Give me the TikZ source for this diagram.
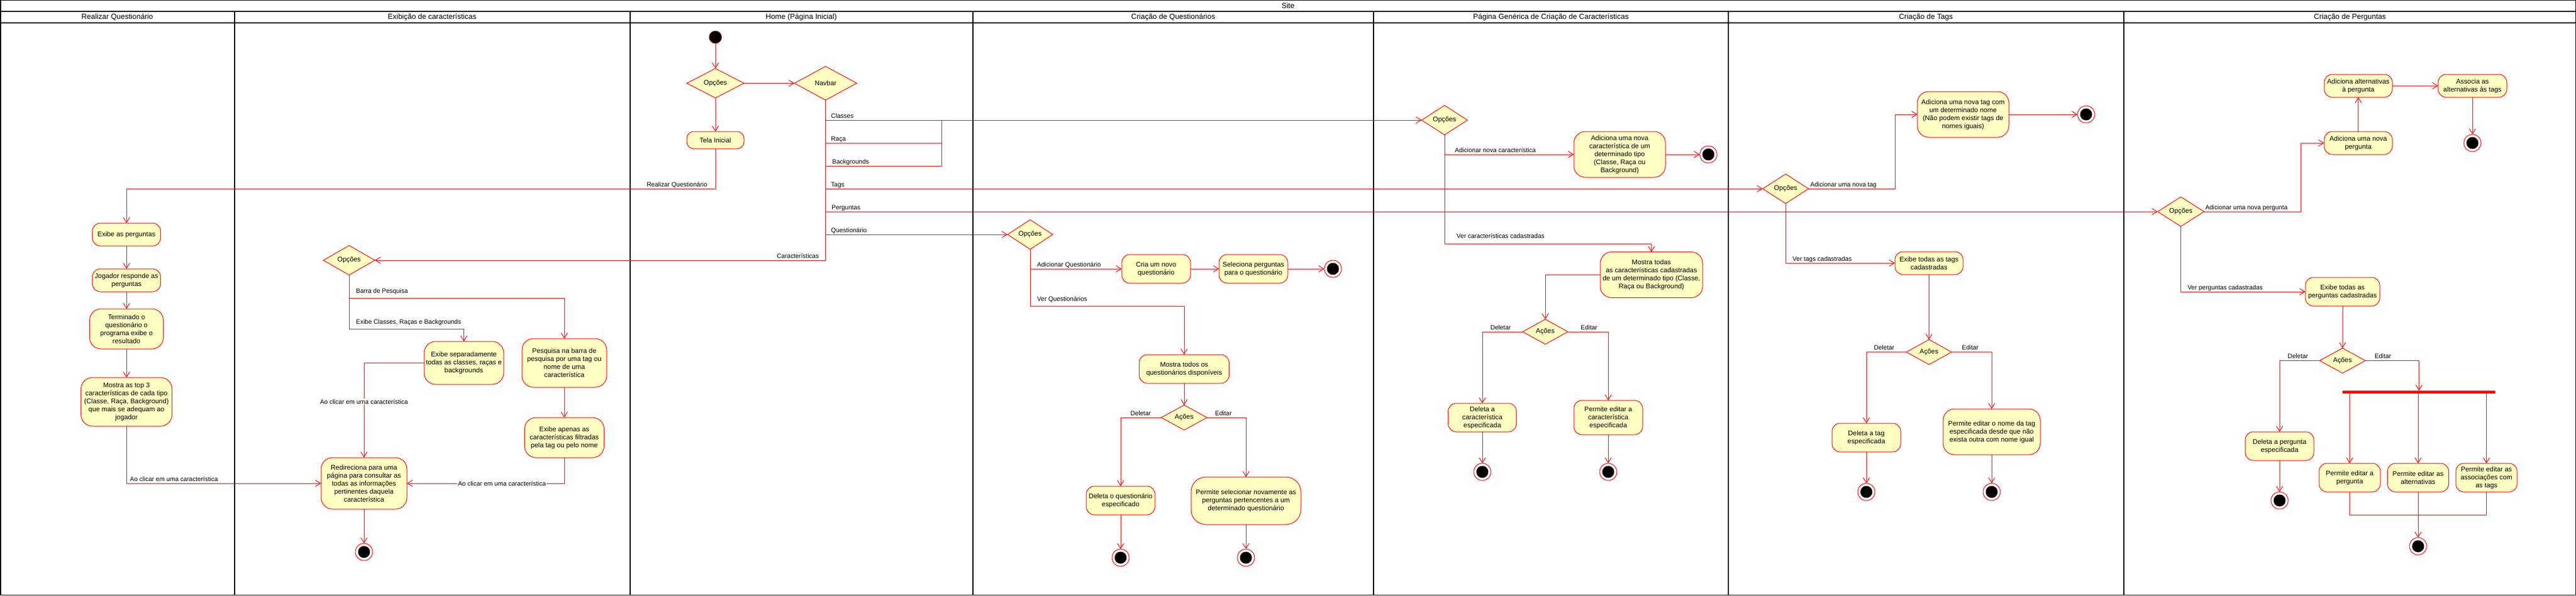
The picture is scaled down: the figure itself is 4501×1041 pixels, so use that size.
\documentclass[tikz,border=0pt]{standalone}
\usepackage{fontspec}
\setmainfont{Liberation Sans}
\usetikzlibrary{shapes.geometric,arrows.meta}
\definecolor{actfill}{RGB}{255,255,196}
\newcommand\nodefnt{\fontsize{11.8}{14}\selectfont}
\newcommand\lblfnt{\fontsize{11}{13}\selectfont}
\newcommand\hdrfnt{\fontsize{13}{15}\selectfont}
\tikzset{
 act/.style={rectangle, rounded corners=14pt, draw=red, fill=actfill, line width=1pt, align=center, inner sep=0pt, outer sep=0pt, font=\nodefnt},
 tallact/.style={act, rounded corners=20pt},
 dec/.style={diamond, draw=red, fill=actfill, line width=1pt, inner sep=0pt, outer sep=0pt, font=\nodefnt},
 startnode/.style={circle, fill=black, draw=red, line width=0.6pt, minimum size=22pt, inner sep=0pt, outer sep=0pt},
 endnode/.style={circle, draw=red, fill=white, line width=1pt, minimum size=30pt, inner sep=0pt, outer sep=0pt, path picture={\fill[black] (path picture bounding box.center) circle (10.5pt);}},
 flow/.style={draw=red, line width=1pt, -{Straight Barb[length=9pt,width=11pt]}},
 conn/.style={draw=red, line width=1pt},
 lbl/.style={font=\lblfnt, inner sep=1pt},
 wlbl/.style={lbl, fill=white},
 lanerule/.style={draw=black, line width=1.5pt},
 hdr/.style={font=\hdrfnt, inner sep=0pt},
 bar/.style={fill=red, inner sep=0pt, outer sep=0pt},
}
\begin{document}
\begin{tikzpicture}[x=1pt,y=-1pt]
\useasboundingbox (0,0) rectangle (4501,1041);
% ---------- frame and swimlanes ----------
\draw[lanerule] (0.75,0.75) rectangle (4500.25,1040.25);
\draw[lanerule] (0,20) -- (4501,20);
\draw[lanerule] (0,40) -- (4501,40);
\foreach \x in {410,1101,1700,2400,3020,3711} \draw[lanerule] (\x,20) -- (\x,1041);
\node[hdr] (hSite) at (2250.5,10) {Site};
\node[hdr] (hA) at (205,30) {Realizar Questionário};
\node[hdr] (hB) at (755,30) {Exibição de características};
\node[hdr] (hC) at (1400,30) {Home (Página Inicial)};
\node[hdr] (hD) at (2050,30) {Criação de Questionários};
\node[hdr] (hE) at (2710,30) {Página Genérica de Criação de Características};
\node[hdr] (hF) at (3365,30) {Criação de Tags};
\node[hdr] (hG) at (4106,30) {Criação de Perguntas};

% ---------- Realizar Questionario ----------
\node[act, minimum width=119pt, minimum height=40pt] (rq1) at (221,410) {Exibe as perguntas};
\node[act, minimum width=119pt, minimum height=40pt] (rq2) at (221,490) {Jogador responde as\\perguntas};
\node[tallact, minimum width=129pt, minimum height=70pt] (rq3) at (221,575) {Terminado o\\questionário o\\programa exibe o\\resultado};
\node[tallact, minimum width=159pt, minimum height=85pt] (rq4) at (221,702.5) {Mostra as top 3\\características de cada tipo\\(Classe, Raça, Background)\\que mais se adequam ao\\jogador};

% ---------- Exibicao de caracteristicas ----------
\node[dec, minimum width=90pt, minimum height=40pt] (ex0) at (610,455) {Opções};
\node[tallact, minimum width=139pt, minimum height=75pt] (ex1) at (810.5,634.5) {Exibe separadamente\\todas as classes, raças e\\backgrounds};
\node[tallact, minimum width=148pt, minimum height=85pt] (ex2) at (986,634.5) {Pesquisa na barra de\\pesquisa por uma tag ou\\nome de uma\\característica};
\node[tallact, minimum width=139pt, minimum height=70pt] (ex3) at (986,765) {Exibe apenas as\\características filtradas\\pela tag ou pelo nome};
\node[tallact, minimum width=150pt, minimum height=90pt] (ex4) at (636,845) {Redireciona para uma\\página para consultar as\\todas as informações\\pertinentes daquela\\característica};
\node[endnode] (ex5) at (636,965) {};

% ---------- Home ----------
\node[startnode] (h0) at (1250,65) {};
\node[dec, minimum width=100pt, minimum height=49pt] (h1) at (1250,145.5) {Opções};
\node[dec, minimum width=109pt, minimum height=59pt] (h2) at (1442.5,145.5) {Navbar};
\node[act, rounded corners=12pt, minimum width=100pt, minimum height=30pt] (h3) at (1250,245) {Tela Inicial};

% ---------- Criacao de Questionarios ----------
\node[dec, minimum width=79pt, minimum height=39pt] (q0) at (1800,410) {Opções};
\node[act, minimum width=120pt, minimum height=50pt] (q1) at (2020,470) {Cria um novo\\questionário};
\node[act, minimum width=120pt, minimum height=50pt] (q2) at (2190,470) {Seleciona perguntas\\para o questionário};
\node[endnode] (q3) at (2329,470) {};
\node[act, minimum width=157pt, minimum height=50pt] (q4) at (2069,645) {Mostra todos os\\questionários disponíveis};
\node[dec, minimum width=80pt, minimum height=40pt] (q5) at (2069,730) {Ações};
\node[act, minimum width=120pt, minimum height=50pt] (q6) at (1958,875) {Deleta o questionário\\especificado};
\node[tallact, rounded corners=26pt, minimum width=192pt, minimum height=83pt] (q7) at (2177,875.5) {Permite selecionar novamente as\\perguntas pertencentes a um\\determinado questionário};
\node[endnode] (q8) at (1958,975) {};
\node[endnode] (q9) at (2177,975) {};

% ---------- Pagina Generica ----------
\node[dec, minimum width=80pt, minimum height=39pt] (p0) at (2524,210) {Opções};
\node[tallact, minimum width=160pt, minimum height=80pt] (p1) at (2830,270) {Adiciona uma nova\\característica de um\\determinado tipo\\(Classe, Raça ou\\Background)};
\node[endnode] (p2) at (2985,270) {};
\node[tallact, minimum width=179pt, minimum height=80pt] (p3) at (2885.5,480.5) {Mostra todas\\as características cadastradas\\de um determinado tipo (Classe,\\Raça ou Background)};
\node[dec, minimum width=79pt, minimum height=39pt] (p4) at (2700,580) {Ações};
\node[act, minimum width=119pt, minimum height=50pt] (p5) at (2590,730) {Deleta a\\característica\\especificada};
\node[act, minimum width=120pt, minimum height=60pt] (p6) at (2810,730) {Permite editar a\\característica\\especificada};
\node[endnode] (p7) at (2590,825) {};
\node[endnode] (p8) at (2810,825) {};

% ---------- Criacao de Tags ----------
\node[dec, minimum width=80pt, minimum height=39pt] (t0) at (3120,330) {Opções};
\node[tallact, minimum width=160pt, minimum height=80pt] (t1) at (3430,200) {Adiciona uma nova tag com\\um determinado nome\\(Não podem existir tags de\\nomes iguais)};
\node[endnode] (t2) at (3645,200) {};
\node[act, minimum width=119pt, minimum height=40pt] (t3) at (3370.5,460) {Exibe todas as tags\\cadastradas};
\node[dec, minimum width=79pt, minimum height=39pt] (t4) at (3370.5,615.5) {Ações};
\node[act, minimum width=120pt, minimum height=50pt] (t5) at (3261,765) {Deleta a tag\\especificada};
\node[tallact, minimum width=170pt, minimum height=80pt] (t6) at (3480,755) {Permite editar o nome da tag\\especificada desde que não\\exista outra com nome igual};
\node[endnode] (t7) at (3261,860) {};
\node[endnode] (t8) at (3480,860) {};

% ---------- Criacao de Perguntas ----------
\node[dec, minimum width=81pt, minimum height=40pt] (g0) at (3810.5,370) {Opções};
\node[act, minimum width=119pt, minimum height=40pt] (g1) at (4120.5,250) {Adiciona uma nova\\pergunta};
\node[act, minimum width=119pt, minimum height=40pt] (g2) at (4120.5,150) {Adiciona alternativas\\à pergunta};
\node[act, minimum width=120pt, minimum height=40pt] (g3) at (4320,150) {Associa as\\alternativas às tags};
\node[endnode] (g4) at (4320,250) {};
\node[act, minimum width=130pt, minimum height=50pt] (g5) at (4093,510) {Exibe todas as\\perguntas cadastradas};
\node[dec, minimum width=80pt, minimum height=39pt] (g6) at (4093,630.5) {Ações};
\node[act, minimum width=120pt, minimum height=50pt] (g7) at (3983,780) {Deleta a pergunta\\especificada};
\node[bar, minimum width=267pt, minimum height=5pt] (fork) at (4226.5,685.5) {};
\node[act, minimum width=107pt, minimum height=50pt] (g8) at (4105.5,835) {Permite editar a\\pergunta};
\node[act, minimum width=107pt, minimum height=50pt] (g9) at (4225,835) {Permite editar as\\alternativas};
\node[act, minimum width=107pt, minimum height=50pt] (g10) at (4344.5,835) {Permite editar as\\associações com\\as tags};
\node[endnode] (g11) at (3983,875) {};
\node[endnode] (g12) at (4225,955) {};

% ---------- connectors: Home ----------
\draw[flow] (h0.south) -- (h1.north);
\draw[flow] (h1.east) -- (h2.west);
\draw[flow] (h1.south) -- (h3.north);
\draw[flow] (h3.south) -- ++(0,70) -| (rq1.north);
\draw[flow] (h2.south) |- (ex0.east);
\draw[flow] (h2.south |- p0.west) -- (p0.west);
\coordinate (jn) at (1645,210);
\draw[conn] (h2.south |- 0,250) -| (jn);
\draw[conn] (h2.south |- 0,290) -| (jn);
\draw[flow] (h2.south |- t0.west) -- (t0.west);
\draw[flow] (h2.south |- g0.west) -- (g0.west);
\draw[flow] (h2.south |- q0.west) -- (q0.west);
\node[lbl, anchor=base east] (lRQ) at (1237,326) {Realizar Questionário};
\node[lbl, anchor=base east] (lCar) at (1432,451) {Características};
\node[lbl, anchor=base west] (lCl) at (1451,206) {Classes};
\node[lbl, anchor=base west] (lRa) at (1451,246) {Raça};
\node[lbl, anchor=base west] (lBg) at (1453,286) {Backgrounds};
\node[lbl, anchor=base west] (lTg) at (1451,326) {Tags};
\node[lbl, anchor=base west] (lPg) at (1452,366) {Perguntas};
\node[lbl, anchor=base west] (lQs) at (1451,406) {Questionário};

% ---------- connectors: Realizar ----------
\draw[flow] (rq1.south) -- (rq2.north);
\draw[flow] (rq2.south) -- (rq3.north);
\draw[flow] (rq3.south) -- (rq4.north);
\draw[flow] (rq4.south) |- (ex4.west);
\node[lbl, anchor=base west] (lAo2) at (226,841) {Ao clicar em uma característica};

% ---------- connectors: Exibicao ----------
\draw[flow] (ex0.south) -- ++(0,41) -| (ex2.north);
\draw[flow] (ex0.south) -- ++(0,95) -| (ex1.north);
\draw[flow] (ex1.west) -| (ex4.north);
\draw[flow] (ex2.south) -- (ex3.north);
\draw[flow] (ex3.south) |- (ex4.east);
\draw[flow] (ex4.south) -- (ex5.north);
\node[lbl, anchor=base west] (lBP) at (621,512) {Barra de Pesquisa};
\node[lbl, anchor=base west] (lEC) at (621,566) {Exibe Classes, Raças e Backgrounds};
\node[wlbl] (lAo1) at (636,702) {Ao clicar em uma característica};
\node[wlbl] (lAo3) at (877,845) {Ao clicar em uma característica};

% ---------- connectors: Questionarios ----------
\draw[flow] (q0.south) |- (q1.west);
\draw[flow] (q0.south) -- ++(0,100) -| (q4.north);
\draw[flow] (q1.east) -- (q2.west);
\draw[flow] (q2.east) -- (q3.west);
\draw[flow] (q4.south) -- (q5.north);
\draw[flow] (q5.west) -| (q6.north);
\draw[flow] (q5.east) -| (q7.north);
\draw[flow] (q6.south) -- (q8.north);
\draw[flow] (q7.south) -- (q9.north);
\node[lbl, anchor=base west] (lAQ) at (1811,466) {Adicionar Questionário};
\node[lbl, anchor=base west] (lVQ) at (1811,526) {Ver Questionários};
\node[lbl, anchor=base east] (lD1) at (2012,726) {Deletar};
\node[lbl, anchor=base west] (lE1) at (2122,726) {Editar};

% ---------- connectors: Pagina Generica ----------
\draw[flow] (p0.south) |- (p1.west);
\draw[flow] (p0.south) -- ++(0,190.5) -| (p3.north);
\draw[flow] (p1.east) -- (p2.west);
\draw[flow] (p3.west) -| (p4.north);
\draw[flow] (p4.west) -| (p5.north);
\draw[flow] (p4.east) -| (p6.north);
\draw[flow] (p5.south) -- (p7.north);
\draw[flow] (p6.south) -- (p8.north);
\node[lbl, anchor=base west] (lANC) at (2541,266) {Adicionar nova característica};
\node[lbl, anchor=base west] (lVCC) at (2544,416) {Ver características cadastradas};
\node[lbl, anchor=base east] (lD2) at (2641,576) {Deletar};
\node[lbl, anchor=base west] (lE2) at (2761,576) {Editar};

% ---------- connectors: Tags ----------
\draw[flow] (t0.east) -- ++(151,0) |- (t1.west);
\draw[flow] (t1.east) -- (t2.west);
\draw[flow] (t0.south) |- (t3.west);
\draw[flow] (t3.south) -- (t4.north);
\draw[flow] (t4.west) -| (t5.north);
\draw[flow] (t4.east) -| (t6.north);
\draw[flow] (t5.south) -- (t7.north);
\draw[flow] (t6.south) -- (t8.north);
\node[lbl, anchor=base west] (lANT) at (3162,326) {Adicionar uma nova tag};
\node[lbl, anchor=base west] (lVT) at (3131,456) {Ver tags cadastradas};
\node[lbl, anchor=base east] (lD3) at (3311,611) {Deletar};
\node[lbl, anchor=base west] (lE3) at (3427,611) {Editar};

% ---------- connectors: Perguntas ----------
\draw[flow] (g0.east) -- ++(169,0) |- (g1.west);
\draw[flow] (g1.north) -- (g2.south);
\draw[flow] (g2.east) -- (g3.west);
\draw[flow] (g3.south) -- (g4.north);
\draw[flow] (g0.south) |- (g5.west);
\draw[flow] (g5.south) -- (g6.north);
\draw[flow] (g6.west) -| (g7.north);
\draw[flow] (g6.east) -| (fork.north);
\draw[flow] (fork.south -| g8.north) -- (g8.north);
\draw[flow] (fork.south -| g9.north) -- (g9.north);
\draw[flow] (fork.south -| g10.north) -- (g10.north);
\draw[conn] (g8.south) -- ++(0,40) -| (g10.south);
\draw[flow] (g9.south) -- (g12.north);
\draw[flow] (g7.south) -- (g11.north);
\node[lbl, anchor=base west] (lANP) at (3852,366) {Adicionar uma nova pergunta};
\node[lbl, anchor=base west] (lVP) at (3821,506) {Ver perguntas cadastradas};
\node[lbl, anchor=base east] (lD4) at (4034,626) {Deletar};
\node[lbl, anchor=base west] (lE4) at (4148,626) {Editar};
\end{tikzpicture}
\end{document}
